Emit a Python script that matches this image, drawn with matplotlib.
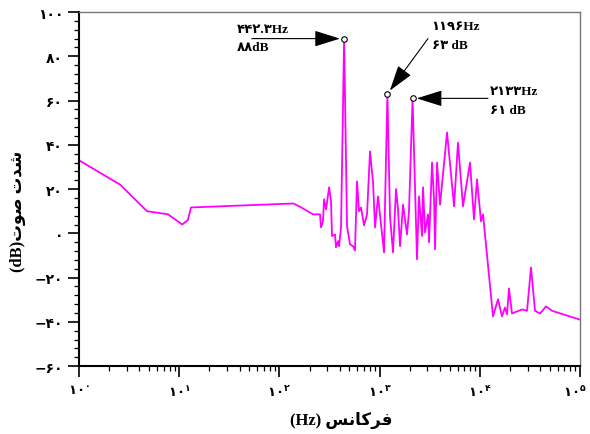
import matplotlib
matplotlib.use('Agg')
import matplotlib.pyplot as plt
import matplotlib.transforms as mtransforms
from matplotlib.ticker import FixedLocator, LogLocator, NullFormatter, AutoMinorLocator
import numpy as np

# طیف فرکانسی صدا (فرکانس بر حسب هرتز، شدت بر حسب دسی‌بل)
freq_hz = [1.0, 2.57, 4.77, 7.73, 10.7, 12.2, 13.1, 137, 161, 216, 254, 260, 272,
           279, 292, 313, 327, 335, 359, 367, 385, 394, 412, 442.3, 473, 507,
           543, 568, 595, 623, 652, 699, 749, 802, 860, 900, 964, 1033, 1107,
           1196, 1270, 1361, 1458, 1527, 1600, 1713, 1877, 1965, 2133, 2362,
           2473, 2651, 2713, 2840, 3043, 3114, 3337, 3494, 3575, 3743, 4010,
           4711, 5534, 6057, 6797, 7986, 8754, 9381, 10280, 10770, 13550,
           15200, 16660, 17850, 18700, 19560, 20960, 26390, 29610, 32460,
           35590, 39930, 45840, 52600, 100000]
level_db = [33, 22, 10, 8.6, 4, 6, 11.7, 13.5, 12, 8.6, 8.6, 2.7, 5.4,
            15.4, 10.8, 20.8, 15, -1.2, -0.5, -6.3, -3.5, -5.8, 2.7, 88, 3.2, -5,
            -5.8, -7.7, 23.5, 10, 11.7, 3.6, 8.6, 37, 23, 2.7, 16.7, 4, -8.6,
            63, 7.7, -8.6, 20, 10.8, -5.8, 13, -0.5, 10, 61, -11.7,
            16.7, -1.2, 20.8, 0.4, 8.6, -4, 32, 15.4, -7.2, 32, 13,
            45.6, 12.2, 41, 12.2, 32, 6.3, 24.4, 5.4, 8.6, -37.5,
            -29.8, -37.5, -33.5, -36.6, -24.9, -36.2, -34.4, -35, -15.4,
            -35, -36.2, -33, -35, -39]

# قله‌های مشخص‌شده
peak_freq = [442.3, 1196, 2133]
peak_db = [88, 63, 61]
peak_text = ['۴۴۲.۳Hz\n۸۸dB', '۱۱۹۶Hz\n۶۳ dB', '۲۱۳۳Hz\n۶۱ dB']
text_pos = [(37.8, 88.3), (3300, 89.3), (12650, 60)]
arrow_tail = [(53, 88), (3040, 88), (12080, 61)]

y_ticks = [-60, -40, -20, 0, 20, 40, 60, 80, 100]
x_ticks = [1, 10, 100, 1000, 10000, 100000]

FA_DIGITS = str.maketrans('0123456789-', '۰۱۲۳۴۵۶۷۸۹−')


def fa(num):
  return str(num).translate(FA_DIGITS)


plt.rcParams['mathtext.fontset'] = 'custom'
plt.rcParams['mathtext.rm'] = 'DejaVu Sans:bold'
plt.rcParams['mathtext.bf'] = 'DejaVu Sans:bold'

fig = plt.figure(figsize=(5.9, 4.35), dpi=100)
ax = fig.add_axes([0.134, 0.156, 0.849, 0.814])

ax.plot(freq_hz, level_db, color='#FF00FF', linewidth=1.3)
ax.plot(peak_freq, peak_db, 'o', markersize=4, markerfacecolor='white',
        markeredgecolor='black', markeredgewidth=0.8, zorder=5)

serif_fa = ['Liberation Serif', 'DejaVu Sans']
for (tx, ty), (ax_, ay), f, d, s in zip(text_pos, arrow_tail, peak_freq, peak_db, peak_text):
  ax.annotate('', xy=(f, d), xytext=(ax_, ay),
              arrowprops=dict(arrowstyle='-|>,head_length=0.8,head_width=0.25',
                              mutation_scale=20, color='black', lw=0.8,
                              shrinkA=0, shrinkB=3))
  ax.text(tx, ty, s, fontsize=9.5, fontweight='bold', family=serif_fa,
          ha='left', va='center', linespacing=1.75)

ax.set_xscale('log')
ax.set_xlim(1, 100000)
ax.set_ylim(-60, 100)

ax.xaxis.set_major_locator(FixedLocator(x_ticks))
ax.xaxis.set_minor_locator(LogLocator(base=10, subs=np.arange(2, 10)))
ax.xaxis.set_minor_formatter(NullFormatter())
ax.set_xticks(x_ticks)
ax.set_xticklabels([r'$\mathbf{۱۰}^{\mathbf{%s}}$' % fa(int(np.log10(v))) for v in x_ticks])

ax.set_yticks(y_ticks)
ax.set_yticklabels([fa(v) for v in y_ticks], fontweight='bold', family='DejaVu Sans')
ax.yaxis.set_minor_locator(AutoMinorLocator(5))

ax.tick_params(which='major', direction='out', length=8, width=1.2, labelsize=10)
ax.tick_params(which='minor', direction='out', length=3.5, width=0.9)
ax.tick_params(axis='x', which='major', pad=5, labelsize=9.5)

# آخرین برچسب محور x کمی به چپ تا از لبه بیرون نزند
last = ax.get_xticklabels()[-1]
last.set_transform(last.get_transform() +
                   mtransforms.ScaledTranslation(-4 / 72, 0, fig.dpi_scale_trans))

for side in ('left', 'bottom'):
  ax.spines[side].set_linewidth(1.5)
  ax.spines[side].set_color('black')
for side in ('top', 'right'):
  ax.spines[side].set_linewidth(1.0)
  ax.spines[side].set_color('#777777')

# برچسب محورها (حروف عربی به‌صورت شکل‌های نمایشی و ترتیب بصری)
x_label = '(Hz) ' + '\uFEB2\uFEE7\uFE8E\uFB90\uFEAE\uFED3'
y_label = '(dB)' + '\uFE95\uFEEE\uFEBB' + ' ' + '\uFE95\uFEAA\uFEB7'
ax.set_xlabel(x_label, fontsize=12, fontweight='bold', family=serif_fa)
ax.xaxis.set_label_coords(0.523, -0.125)
ax.set_ylabel(y_label, fontsize=12, fontweight='bold', family=serif_fa)
ax.yaxis.set_label_coords(-0.105, 0.44)

fig.savefig('out.png', dpi=100)
